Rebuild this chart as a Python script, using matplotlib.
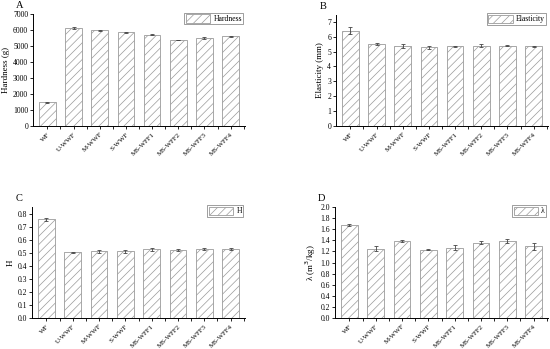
import numpy as np
import matplotlib
matplotlib.use("Agg")
import matplotlib.pyplot as plt
from matplotlib.ticker import MultipleLocator, FormatStrFormatter

plt.rcParams["font.family"] = ["Liberation Serif", "DejaVu Serif"]
plt.rcParams["hatch.color"] = "#8c8c8c"
plt.rcParams["hatch.linewidth"] = 0.5

samples = ["WF", "U-WWF", "M-WWF", "S-WWF", "MS-WFF1", "MS-WFF2", "MS-WFF3", "MS-WFF4"]

hardness = [1480, 6170, 6000, 5880, 5740, 5400, 5530, 5630]
hardness_err = [40, 50, 30, 40, 40, 30, 40, 40]

elasticity = [6.40, 5.50, 5.38, 5.30, 5.35, 5.38, 5.40, 5.35]
elasticity_err = [0.25, 0.05, 0.12, 0.10, 0.05, 0.10, 0.05, 0.05]

h_vals = [0.755, 0.505, 0.510, 0.510, 0.525, 0.520, 0.530, 0.528]
h_err = [0.010, 0.004, 0.010, 0.010, 0.010, 0.007, 0.007, 0.007]

lam = [1.67, 1.25, 1.39, 1.23, 1.27, 1.36, 1.39, 1.29]
lam_err = [0.02, 0.04, 0.02, 0.01, 0.04, 0.02, 0.04, 0.06]

W, H = 550, 349
fig = plt.figure(figsize=(W / 100, H / 100), dpi=100)


def px_axes(left, top, right, bottom):
    return fig.add_axes([left / W, 1 - bottom / H, (right - left) / W, (bottom - top) / H])


panels = [
    # (box, values, errors, ylim, ystep, ylabel, letter, legend label, fmt)
    ((33, 14.5, 245, 126), hardness, hardness_err, 7000, 1000, "Hardness (g)", "A", "Hardness", "%d"),
    ((336, 15, 548, 126), elasticity, elasticity_err, 7.45, 1, "Elasticity (mm)", "B", "Elasticity", "%d"),
    ((32, 207, 245, 318), h_vals, h_err, 0.85, 0.1, "H", "C", "H", "%.1f"),
    ((335, 207, 548, 318), lam, lam_err, 2.0, 0.2, "λ (m$^3$/kg)", "D", "λ", "%.1f"),
]

x = np.arange(len(samples))
for box, vals, errs, ytop, ystep, ylabel, letter, leg, fmt in panels:
    ax = px_axes(*box)
    ax.bar(x, vals, width=0.63, color="white", edgecolor="#9a9a9a", linewidth=0.6,
           hatch="////", label=leg, zorder=2)
    ax.errorbar(x, vals, yerr=errs, fmt="none", ecolor="#444444", elinewidth=0.6,
                capsize=1.5, capthick=0.6, zorder=3)
    ax.set_xlim(-0.55, 7.55)
    ax.set_ylim(0, ytop)
    ax.yaxis.set_major_locator(MultipleLocator(ystep))
    ax.yaxis.set_major_formatter(FormatStrFormatter(fmt))
    ax.set_xticks(x)
    ax.set_xticklabels(samples, rotation=45, ha="right", rotation_mode="anchor", fontsize=5)
    ax.set_xticks(x + 0.5, minor=True)
    ax.tick_params(axis="y", labelsize=5.5, length=2, width=0.6, pad=1.5)
    ax.tick_params(axis="x", which="both", length=2, width=0.6, pad=2)
    for s in ("top", "right"):
        ax.spines[s].set_visible(False)
    for s in ("left", "bottom"):
        ax.spines[s].set_linewidth(0.7)
    ax.set_ylabel(ylabel, fontsize=6.5, labelpad=2)
    ax.text(-0.045, 1.04, letter, transform=ax.transAxes, fontsize=7.5, ha="right", va="bottom")
    lg = ax.legend(loc="upper right", bbox_to_anchor=(1.0, 1.03), fontsize=5.5, frameon=True,
                   fancybox=False, edgecolor="#555555", handlelength=3.2, handleheight=1.3,
                   borderpad=0.2, handletextpad=0.4, borderaxespad=0.2)
    lg.get_frame().set_linewidth(0.5)

fig.savefig("out.png", dpi=100, facecolor="white")
